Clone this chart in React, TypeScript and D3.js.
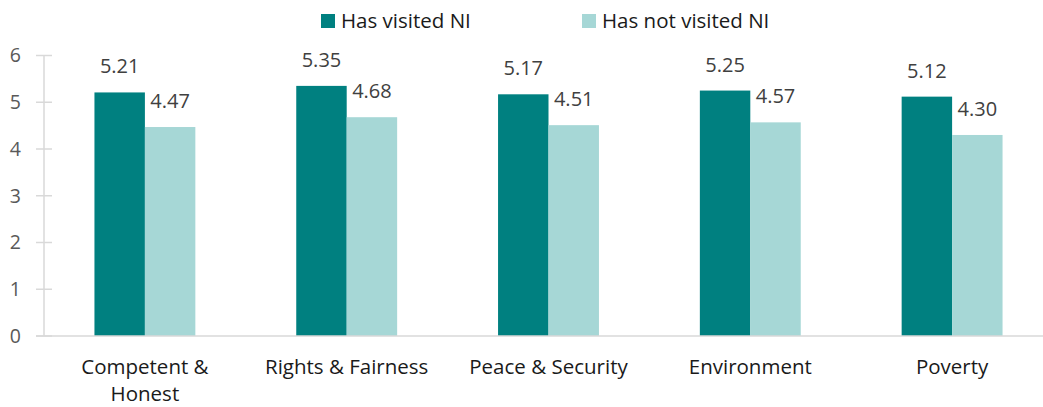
import * as d3 from "d3";

// chart data
const categories = [["Competent &", "Honest"], ["Rights & Fairness"], ["Peace & Security"], ["Environment"], ["Poverty"]];
const seriesNames = ["Has visited NI", "Has not visited NI"];
const visited = [5.21, 5.35, 5.17, 5.25, 5.12];
const notVisited = [4.47, 4.68, 4.51, 4.57, 4.3];
const yTicks = [0, 1, 2, 3, 4, 5, 6];

const W = 1043;
const H = 407;
const colors = ["#008080", "#A6D7D6"];
const FONT = "'Open Sans', Lato, sans-serif";

export default function App() {
	const x0 = d3
		.scaleBand<number>()
		.domain(d3.range(categories.length))
		.range([44, 1053])
		.paddingInner(0.5)
		.paddingOuter(0.25);
	const x1 = d3.scaleBand<number>().domain([0, 1]).range([0, x0.bandwidth()]);
	const y = d3.scaleLinear().domain([0, 6]).range([336, 55.5]);
	const series = [visited, notVisited];

	return (
		<svg
			width={W}
			height={H}
			style={{ position: "absolute", left: 0, top: 0 }}
			fontFamily={FONT}
		>
			{/* legend */}
			{seriesNames.map((name, i) => {
				const lx = i === 0 ? 321 : 582;
				return (
					<g key={name}>
						<rect x={lx} y={14} width={14} height={14} fill={colors[i]} />
						<text x={lx + 20} y={28} fontSize={20.5} fill="#1a1a1a">
							{name}
						</text>
					</g>
				);
			})}

			{/* y axis */}
			<line x1={44} x2={44} y1={y(6)} y2={y(0)} stroke="#d9d9d9" strokeWidth={1.5} />
			{yTicks.map((t) => (
				<g key={t}>
					<line x1={36} x2={52} y1={y(t)} y2={y(t)} stroke="#d9d9d9" strokeWidth={1.5} />
					<text
						x={21}
						y={y(t)}
						dy="0.35em"
						textAnchor="end"
						fontSize={19.5}
						fill="#595959"
					>
						{t}
					</text>
				</g>
			))}

			{/* bars */}
			{categories.map((cat, ci) =>
				series.map((s, si) => {
					const bx = (x0(ci) ?? 0) + (x1(si) ?? 0);
					const bw = x1.bandwidth();
					return (
						<g key={`${ci}-${si}`}>
							<rect
								x={bx}
								y={y(s[ci])}
								width={bw}
								height={y(0) - y(s[ci])}
								fill={colors[si]}
							/>
							<text
								x={bx + bw / 2}
								y={y(s[ci]) - 19}
								textAnchor="middle"
								fontSize={20}
								fill="#404040"
							>
								{s[ci].toFixed(2)}
							</text>
						</g>
					);
				}),
			)}

			{/* x axis baseline */}
			<line x1={36} x2={W} y1={y(0)} y2={y(0)} stroke="#d9d9d9" strokeWidth={1.5} />

			{/* category labels */}
			{categories.map((lines, ci) => (
				<text
					key={ci}
					x={(x0(ci) ?? 0) + x0.bandwidth() / 2}
					y={373.5}
					textAnchor="middle"
					fontSize={20.5}
					fill="#1a1a1a"
				>
					{lines.map((l, li) => (
						<tspan key={li} x={(x0(ci) ?? 0) + x0.bandwidth() / 2} dy={li === 0 ? 0 : 27.5}>
							{l}
						</tspan>
					))}
				</text>
			))}
		</svg>
	);
}
